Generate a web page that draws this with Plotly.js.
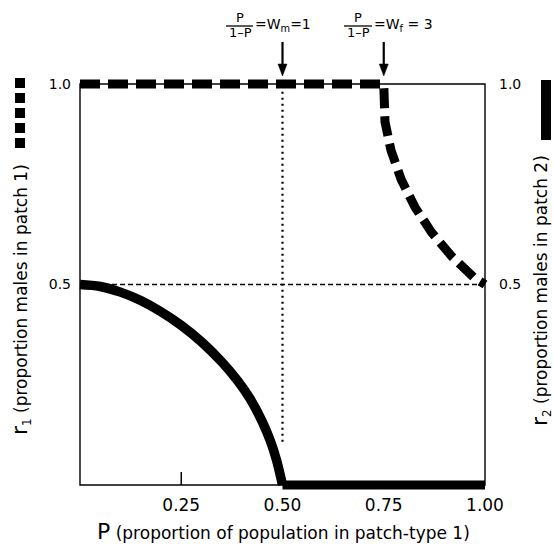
<!DOCTYPE html>
<html><head><meta charset="utf-8">
<script src="https://cdn.plot.ly/plotly-3.0.1.min.js"></script>
<style>html,body{margin:0;padding:0;background:#fff}</style>
</head><body><div id="chart" style="width:553px;height:544px"></div>
<script>
// ---- data ----
const r1P   = [0, 0.75, 0.753, 0.768, 0.793, 0.827, 0.868, 0.919, 0.973, 1.0];
const r1Val = [1.0, 1.0, 0.906, 0.834, 0.762, 0.693, 0.630, 0.569, 0.517, 0.5];
const r2CurveP   = [0, 0.05, 0.10, 0.15, 0.20, 0.25, 0.30, 0.35, 0.39, 0.42, 0.45, 0.47, 0.485, 0.5];
const r2CurveVal = [0.5, 0.495, 0.481, 0.460, 0.432, 0.398, 0.357, 0.307, 0.259, 0.215, 0.158, 0.110, 0.063, 0.0];
const r2FlatP   = [0.5, 1.0];
const r2FlatVal = [0.0, 0.0];
const halfP = [0, 1];
const halfR = [0.5, 0.5];
const wmP = [0.5, 0.5];
const wmR = [0.108, 1.0];
const arrowP = [0.5, 0.75];
const xTickVals = [0.25, 0.5, 0.75, 1.0];
const xTickText = ['0.25', '0.50', '0.75', '1.00'];
const yTickVals = [0.5, 1.0];
const yTickText = ['0.5', '1.0'];
const xTitle = '<span style="font-size:22px">P</span> (proportion of population in patch-type 1)';
const y1Title = '<span style="font-size:22px">r</span><sub>1</sub> (proportion males in patch 1)';
const y2Title = '<span style="font-size:22px">r</span><sub>2</sub> (proportion males in patch 2)';

// ---- layout geometry ----
const W = 553, H = 544;
const M = {l: 72, r: 60, t: 76, b: 51};
const PW = W - M.l - M.r, PH = H - M.t - M.b;
const xp = px => (px - M.l) / PW;
const yp = py => (M.t + PH - py) / PH;
const padX = 8 / 405, padY = 8 / 401;
const FONT = 'DejaVu Sans, Liberation Sans, Arial, sans-serif';
const K = '#000';

const traces = [
  {x: halfP, y: halfR, mode: 'lines', line: {color: K, width: 1.4, dash: '5px,3px'}, hoverinfo: 'skip'},
  {x: wmP, y: wmR, mode: 'lines', line: {color: K, width: 2.2, dash: '2px,4px'}, hoverinfo: 'skip'},
  {x: r2CurveP, y: r2CurveVal, mode: 'lines', line: {color: K, width: 9.5, shape: 'spline', smoothing: 1}, hoverinfo: 'skip'},
  {x: r2FlatP, y: r2FlatVal, mode: 'lines', line: {color: K, width: 9}, hoverinfo: 'skip'},
  {x: r1P, y: r1Val, mode: 'lines', line: {color: K, width: 9, dash: '20px,8px'}, hoverinfo: 'skip'},
  {x: [0.5], y: [0.5], yaxis: 'y2', mode: 'markers', marker: {opacity: 0}, hoverinfo: 'skip'}
];

const shapes = [
  {type: 'rect', xref: 'x', yref: 'y', x0: 0, x1: 1, y0: 0, y1: 1, line: {color: K, width: 1.4}, layer: 'below'},
  {type: 'line', xref: 'x', yref: 'y', x0: 0.25, x1: 0.25, y0: 0, y1: 13 / 401, line: {color: K, width: 1.5}},
  // legend symbols beside axis titles
  {type: 'line', xref: 'paper', yref: 'paper', x0: xp(20), x1: xp(20), y0: yp(78), y1: yp(151), line: {color: K, width: 10, dash: '10px,5px'}},
  {type: 'line', xref: 'paper', yref: 'paper', x0: xp(546), x1: xp(546), y0: yp(80), y1: yp(140), line: {color: K, width: 10}},
  // fraction bars
  {type: 'line', xref: 'paper', yref: 'paper', x0: xp(226), x1: xp(253), y0: yp(26), y1: yp(26), line: {color: K, width: 1.3}},
  {type: 'line', xref: 'paper', yref: 'paper', x0: xp(344), x1: xp(372), y0: yp(26), y1: yp(26), line: {color: K, width: 1.3}}
];
const dxHead = 4.5 / 405;
arrowP.forEach(p => {
  shapes.push({type: 'line', xref: 'x', yref: 'paper', x0: p, x1: p, y0: yp(42), y1: yp(66), line: {color: K, width: 2.2}});
  shapes.push({type: 'path', xref: 'x', yref: 'paper',
    path: `M ${p - dxHead},${yp(64)} L ${p + dxHead},${yp(64)} L ${p},${yp(76)} Z`,
    fillcolor: K, line: {color: K, width: 0.5}});
});

const ann = (x, y, text, size, extra) => Object.assign({xref: 'paper', yref: 'paper', x: xp(x), y: yp(y), text: text,
  showarrow: false, font: {family: FONT, size: size, color: K}, xanchor: 'center', yanchor: 'middle'}, extra || {});

const annotations = [
  ann(283.5, 531, xTitle, 17),
  ann(20, 300, y1Title, 17, {textangle: -90}),
  ann(540, 291, y2Title, 17, {textangle: -90}),
  ann(240, 18, 'P', 13),
  ann(240, 33, '1\u2013P', 13),
  ann(253, 25, '=W<sub>m</sub>=1', 14, {xanchor: 'left'}),
  ann(358, 18, 'P', 13),
  ann(358, 33, '1\u2013P', 13),
  ann(372, 25, '=W<sub>f</sub> = 3', 14, {xanchor: 'left'})
];

const layout = {
  width: W, height: H, margin: M, showlegend: false,
  paper_bgcolor: '#fff', plot_bgcolor: '#fff',
  font: {family: FONT, color: K},
  xaxis: {range: [-padX, 1 + padX], showgrid: false, zeroline: false, showline: false, ticks: '',
    tickvals: xTickVals, ticktext: xTickText, tickfont: {size: 17, family: FONT, color: K}},
  yaxis: {range: [-padY, 1 + padY], showgrid: false, zeroline: false, showline: false, ticks: '',
    tickvals: yTickVals, ticktext: yTickText, tickfont: {size: 14, family: FONT, color: K}},
  yaxis2: {range: [-padY, 1 + padY], overlaying: 'y', side: 'right', showgrid: false, zeroline: false, showline: false,
    ticks: '', tickvals: yTickVals, ticktext: yTickText, tickfont: {size: 14, family: FONT, color: K}, ticklabelstandoff: 5},
  shapes: shapes,
  annotations: annotations
};

Plotly.newPlot('chart', traces, layout, {displayModeBar: false, staticPlot: true});
</script></body></html>
